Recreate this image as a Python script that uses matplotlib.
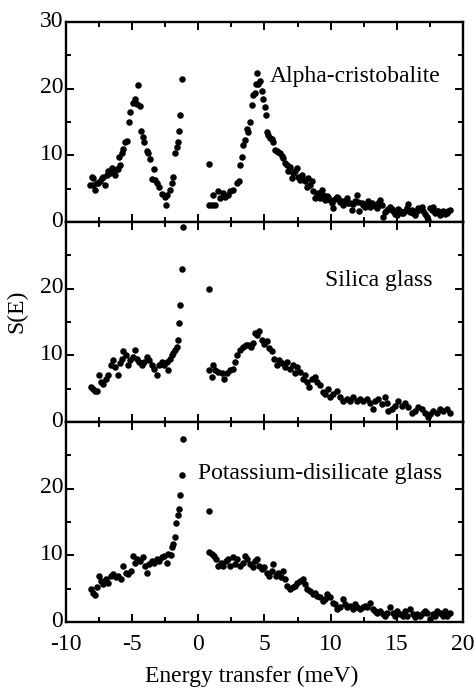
import matplotlib
matplotlib.use("Agg")
import matplotlib.pyplot as plt
import matplotlib.transforms as mtransforms
from matplotlib.ticker import MultipleLocator

plt.rcParams["font.family"] = ["Liberation Serif", "DejaVu Serif"]
plt.rcParams["axes.unicode_minus"] = False

# Alpha-cristobalite
cris_e = [-8.19, -8.06, -7.98, -7.94, -7.81, -7.68, -7.56, -7.43, -7.30, -7.18, -7.05,
          -6.92, -6.80, -6.67, -6.55, -6.42, -6.30, -6.12, -6.05, -5.92, -5.97, -5.79,
          -5.67, -5.54, -5.41, -5.24, -5.16, -4.96, -4.78, -4.66, -4.53, -4.41, -4.33,
          -4.16, -4.08, -3.90, -3.78, -3.65, -3.52, -3.35, -3.27, -3.14, -2.97, -2.77,
          -2.52, -2.44, -2.34, -2.14, -2.01, -1.89, -1.76, -1.63, -1.56, -1.46, -1.38,
          -1.25,
          0.81, 0.83, 1.01, 1.13, 1.26, 1.51, 1.64, 1.84, 2.02, 2.27, 2.39, 2.64, 2.90,
          3.10, 3.15, 3.27, 3.40, 3.53, 3.65, 3.78, 3.90, 4.03, 4.16, 4.28, 4.36, 4.41,
          4.53, 4.66, 4.79, 4.91, 5.04, 5.09, 5.16, 5.29, 5.41, 5.54, 5.67, 5.79, 5.92,
          6.05, 6.17, 6.30, 6.42, 6.55, 6.68, 6.80, 6.93, 7.05, 7.18, 7.30, 7.43, 7.56,
          7.68, 7.81, 7.94, 8.06, 8.19, 8.31, 8.44, 8.56, 8.69, 8.82, 8.94, 9.07, 9.19,
          9.32, 9.45, 9.57, 9.70, 9.82, 9.95, 10.08, 10.20, 10.33, 10.45, 10.58, 10.71,
          10.83, 10.96, 11.08, 11.21, 11.34, 11.46, 11.59, 11.71, 11.84, 11.96, 12.09,
          12.17, 12.34, 12.47, 12.59, 12.72, 12.85, 12.97, 13.10, 13.22, 13.35, 13.48,
          13.60, 13.73, 13.85, 13.98, 14.11, 14.23, 14.36, 14.48, 14.61, 14.74, 14.86,
          14.99, 15.12, 15.24, 15.37, 15.49, 15.62, 15.74, 15.87, 16.00, 16.12, 16.25,
          16.37, 16.50, 16.62, 16.75, 16.88, 17.00, 17.13, 17.25, 17.38, 17.51, 17.63,
          17.76, 17.88, 18.01, 18.14, 18.26, 18.39, 18.51, 18.64, 18.77, 18.89, 19.02]
cris_s = [5.6, 6.8, 6.6, 5.5, 4.8, 5.8, 5.8, 6.1, 6.6, 6.8, 5.5,
          7.0, 7.6, 7.3, 8.1, 7.8, 7.0, 8.0, 8.0, 8.6, 9.8, 10.3,
          11.0, 12.0, 12.2, 15.0, 16.5, 17.9, 18.4, 17.7, 20.5, 17.4, 13.7,
          12.7, 12.0, 10.7, 10.3, 9.5, 6.5, 7.9, 6.3, 5.8, 5.3, 4.2,
          3.8, 2.6, 4.1, 4.8, 5.8, 6.8, 10.3, 11.2, 12.0, 13.7, 16.0,
          21.5,
          8.7, 2.6, 2.6, 4.1, 2.5, 4.6, 3.6, 4.3, 3.8, 4.1, 4.6, 4.8, 5.8,
          6.2, 8.6, 9.8, 11.5, 12.3, 14.0, 13.5, 15.0, 17.5, 19.0, 19.3, 20.7, 22.4,
          20.7, 21.2, 19.6, 18.5, 17.3, 16.1, 13.5, 13.0, 12.6, 12.5, 12.0, 10.8, 10.6,
          10.5, 10.4, 9.9, 9.6, 8.8, 8.6, 7.6, 8.3, 6.6, 7.3, 7.6, 8.1, 6.8,
          6.3, 7.1, 6.5, 6.1, 5.3, 6.6, 5.6, 6.1, 4.6, 3.6, 4.1, 4.4, 3.6,
          4.8, 4.1, 3.3, 3.9, 3.8, 3.3, 2.8, 2.1, 3.4, 3.8, 3.6, 3.0,
          3.1, 2.6, 3.2, 3.6, 2.9, 2.8, 1.8, 2.7, 3.1, 4.1, 3.0,
          1.6, 2.8, 2.6, 2.3, 2.7, 3.1, 2.3, 2.9, 2.6, 2.4, 2.1,
          2.8, 3.3, 2.6, 0.8, 1.5, 1.8, 2.0, 2.3, 1.9, 1.6, 1.2,
          1.1, 1.9, 1.6, 1.4, 1.3, 1.7, 2.1, 2.7, 1.5, 1.8, 1.4,
          1.1, 1.6, 2.1, 1.9, 2.3, 1.6, 1.2, 0.8, 0.3, 2.1, 1.8,
          2.3, 1.3, 1.7, 1.6, 1.1, 1.5, 1.6, 1.2, 1.3, 1.7, 1.8]

# Silica glass
silica_e = [-8.14, -7.98, -7.81, -7.68, -7.51, -7.36, -7.18, -6.98, -6.80, -6.60, -6.42,
            -6.30, -6.05, -5.92, -5.79, -5.67, -5.47, -5.29, -5.16, -4.96, -4.79, -4.66,
            -4.46, -4.28, -4.11, -3.90, -3.70, -3.53, -3.35, -3.15, -2.95, -2.77, -2.59,
            -2.39, -2.27, -2.14, -2.02, -1.89, -1.76, -1.64, -1.56, -1.44, -1.36, -1.23,
            -1.16,
            0.81, 0.83, 1.01, 1.13, 1.26, 1.51, 1.76, 1.94, 2.14, 2.39, 2.59, 2.77, 2.95,
            3.15, 3.35, 3.60, 3.78, 3.95, 4.16, 4.28, 4.41, 4.61, 4.79, 4.96, 5.16, 5.37,
            5.54, 5.72, 5.92, 6.12, 6.30, 6.55, 6.73, 6.93, 7.13, 7.30, 7.48, 7.68, 7.88,
            8.06, 8.24, 8.39, 8.56, 8.82, 8.99, 9.19, 9.40, 9.57, 9.82, 9.95, 10.20, 10.45,
            10.71, 10.96, 11.21, 11.46, 11.71, 11.96, 12.22, 12.47, 12.72, 12.97, 13.22,
            13.35, 13.60, 13.85, 14.11, 14.23, 14.36, 14.61, 14.86, 15.11, 15.37, 15.62,
            15.87, 16.12, 16.37, 16.62, 16.88, 17.13, 17.38, 17.51, 17.76, 18.01, 18.26,
            18.51, 18.77, 19.02]
silica_s = [5.2, 4.9, 4.6, 4.7, 7.0, 6.0, 5.7, 6.5, 7.1, 8.5, 9.3,
            8.3, 7.1, 8.8, 9.5, 10.6, 10.1, 8.5, 9.3, 9.8, 10.8, 9.5,
            9.0, 8.5, 9.0, 9.8, 9.3, 8.5, 8.0, 7.1, 8.5, 9.0, 8.5,
            9.0, 7.8, 9.5, 10.1, 10.3, 10.8, 11.3, 12.3, 14.9, 17.6, 23.0,
            29.3,
            19.9, 7.8, 6.8, 8.5, 7.8, 7.5, 7.3, 6.5, 7.3, 7.8, 8.0, 9.0, 10.1,
            10.8, 11.3, 11.6, 11.6, 11.3, 11.8, 13.4, 13.1, 13.6, 12.3, 11.7, 12.1, 11.1,
            10.6, 9.5, 8.5, 9.3, 8.8, 8.3, 9.0, 8.0, 8.5, 7.3, 8.3, 7.5, 6.5,
            7.0, 6.0, 5.2, 6.5, 6.8, 6.0, 5.5, 4.5, 4.2, 5.0, 3.7, 4.2, 4.7,
            3.7, 3.2, 3.5, 3.2, 3.7, 3.2, 3.5, 3.2, 3.5, 2.9, 1.9,
            3.2, 3.5, 2.7, 3.7, 2.9, 1.7, 1.9, 2.4, 3.2, 2.4, 2.9,
            2.2, 1.4, 1.7, 2.2, 1.9, 1.4, 0.7, 1.2, 1.7, 1.4, 1.9,
            1.7, 1.9, 1.4]

# Potassium-disilicate glass
potas_e = [-8.14, -7.93, -7.81, -7.68, -7.51, -7.36, -7.18, -6.98, -6.80, -6.60, -6.42,
           -6.22, -6.05, -5.87, -5.67, -5.47, -5.29, -5.11, -4.96, -4.79, -4.61, -4.41,
           -4.21, -4.03, -3.90, -3.70, -3.53, -3.35, -3.15, -2.95, -2.77, -2.59, -2.39,
           -2.27, -2.09, -1.99, -1.89, -1.76, -1.69, -1.56, -1.49, -1.36, -1.26, -1.16,
           0.81, 0.83, 1.01, 1.18, 1.34, 1.51, 1.69, 1.89, 2.09, 2.27, 2.39, 2.59, 2.77,
           2.95, 3.15, 3.35, 3.53, 3.70, 3.90, 4.11, 4.28, 4.46, 4.61, 4.79, 4.96, 5.16,
           5.37, 5.54, 5.67, 5.87, 6.05, 6.22, 6.37, 6.55, 6.73, 6.93, 7.13, 7.30, 7.48,
           7.68, 7.88, 8.06, 8.24, 8.44, 8.64, 8.82, 8.99, 9.19, 9.40, 9.57, 9.75, 9.95,
           10.15, 10.33, 10.50, 10.71, 10.91, 11.08, 11.26, 11.46, 11.66, 11.84, 12.02,
           12.22, 12.42, 12.59, 12.77, 12.97, 13.17, 13.35, 13.53, 13.73, 13.93, 14.11,
           14.28, 14.48, 14.69, 14.86, 15.04, 15.24, 15.44, 15.62, 15.79, 15.99, 16.20,
           16.37, 16.55, 16.75, 16.95, 17.13, 17.30, 17.51, 17.71, 17.88, 18.06, 18.26,
           18.46, 18.64, 18.82, 19.02]
potas_s = [4.9, 4.4, 4.0, 5.2, 6.9, 6.2, 5.7, 6.4, 5.9, 6.9, 7.2,
           6.7, 6.9, 6.4, 8.4, 7.4, 7.2, 7.7, 9.9, 8.9, 9.4, 9.2,
           9.7, 8.4, 7.4, 8.7, 9.2, 8.9, 9.4, 9.2, 9.7, 9.9, 8.9,
           10.2, 10.1, 11.2, 11.7, 12.7, 14.9, 16.0, 17.0, 19.1, 22.1, 27.5,
           16.6, 10.5, 10.2, 9.9, 9.4, 8.4, 8.9, 8.4, 9.2, 9.4, 8.4, 9.7, 8.7,
           9.4, 8.4, 8.9, 9.9, 9.4, 8.7, 8.2, 9.2, 9.4, 8.4, 7.9, 8.2, 7.4,
           6.9, 7.7, 8.7, 6.9, 7.4, 6.7, 7.7, 6.4, 5.4, 4.9, 5.2, 5.4, 5.9,
           6.2, 6.4, 5.7, 4.9, 4.7, 4.2, 4.4, 3.9, 3.7, 3.2, 3.4, 4.2, 3.7,
           2.9, 2.7, 1.9, 2.2, 3.4, 2.7, 2.2, 2.4, 1.9, 2.7, 2.2,
           1.9, 2.2, 2.4, 2.2, 2.9, 1.9, 1.7, 1.4, 1.7, 1.2, 0.9,
           1.4, 2.2, 1.4, 0.9, 1.7, 1.2, 0.9, 1.7, 0.9, 1.9, 1.2,
           0.7, 1.2, 0.9, 1.4, 1.7, 1.4, 0.4, 1.2, 0.9, 1.7, 1.4,
           0.9, 1.7, 0.9, 1.4]

panels = [
    (cris_e, cris_s, "Alpha-cristobalite", 5.4, 21.8),
    (silica_e, silica_s, "Silica glass", 9.6, 21.2),
    (potas_e, potas_s, "Potassium-disilicate glass", 0.0, 22.2),
]

fig = plt.figure(figsize=(4.74, 6.93), dpi=100)
left, width = 0.139, 0.838
h = 200 / 693
top = 1 - 22 / 693
lift = mtransforms.ScaledTranslation(0, 2.5 / 72, fig.dpi_scale_trans)

for i, (e, s, label, lx, ly) in enumerate(panels):
    ax = fig.add_axes([left, top - (i + 1) * h, width, h])
    ax.scatter(e, s, s=22, color="black", linewidths=0, clip_on=False, zorder=3)
    ax.set_xlim(-10, 20)
    ax.set_ylim(0, 30)
    ax.xaxis.set_major_locator(MultipleLocator(5))
    ax.xaxis.set_minor_locator(MultipleLocator(2.5))
    ax.yaxis.set_major_locator(MultipleLocator(10))
    ax.yaxis.set_minor_locator(MultipleLocator(5))
    ax.tick_params(which="both", direction="in", top=True, right=True, width=1.4,
                   labelsize=17)
    ax.tick_params(axis="y", pad=2)
    ax.tick_params(axis="x", pad=9)
    ax.tick_params(which="major", length=6)
    ax.tick_params(which="minor", length=3.5)
    for sp in ax.spines.values():
        sp.set_linewidth(1.7)
    if i == 0:
        ax.set_yticks([0, 10, 20, 30])
    else:
        ax.set_yticks([0, 10, 20])
    for lab in ax.get_yticklabels():
        lab.set_transform(lab.get_transform() + lift)
    if i < 2:
        ax.tick_params(labelbottom=False)
    ax.text(lx, ly, label, fontsize=17, ha="left", va="center")

fig.text(0.036, 0.551, "S(E)", rotation=90, fontsize=17, ha="center", va="center")
fig.text(0.532, 0.024, "Energy transfer (meV)", fontsize=17, ha="center", va="center")

fig.savefig("out.png", dpi=100)
